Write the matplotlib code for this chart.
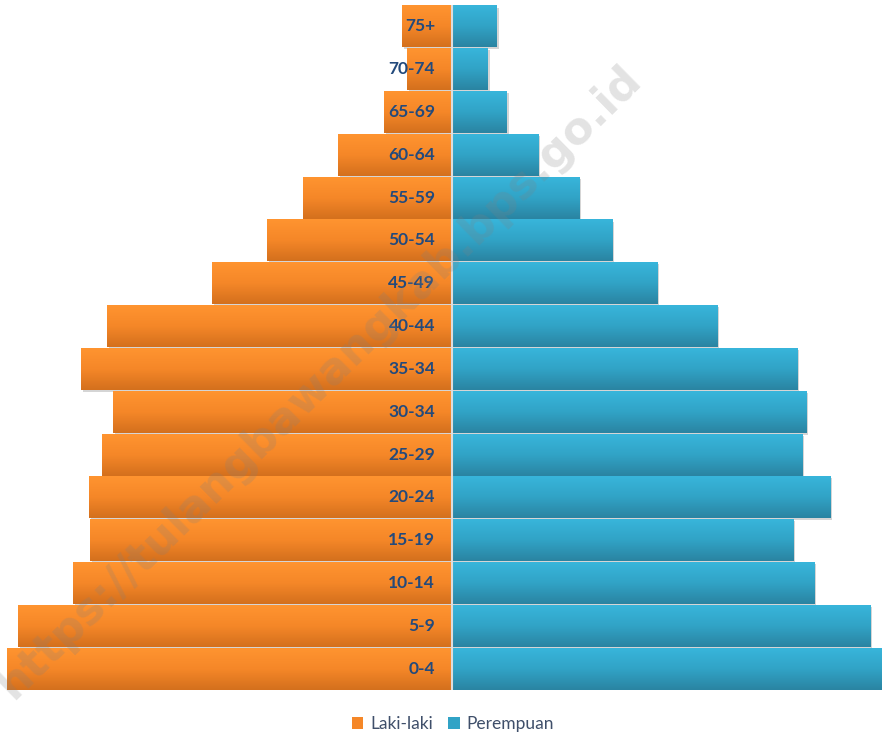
import matplotlib.pyplot as plt
import matplotlib.patheffects as pe
from matplotlib.colors import LinearSegmentedColormap
from matplotlib.patches import Patch
import numpy as np

# age groups, bottom to top
age_groups = ['0-4', '5-9', '10-14', '15-19', '20-24', '25-29', '30-34', '35-34',
              '40-44', '45-49', '50-54', '55-59', '60-64', '65-69', '70-74', '75+']
laki_laki = [445, 434, 379, 362, 363, 350, 339, 371, 345, 240, 185, 149, 114, 68, 45, 50]
perempuan = [429, 418, 362, 341, 378, 350, 354, 345, 265, 205, 160, 127, 86, 55, 36, 45]

orange_cm = LinearSegmentedColormap.from_list('o', ['#D4701D', '#F58728', '#FF9430'])
blue_cm = LinearSegmentedColormap.from_list('b', ['#2A84A2', '#31A3C6', '#38B5DB'])
grad = np.linspace(0, 1, 64).reshape(-1, 1)

fig = plt.figure(figsize=(8.83, 7.35), dpi=100)
ax = fig.add_axes([7 / 883, 45 / 735, 874 / 883, 685 / 735])

y = np.arange(len(age_groups))
shadow = [pe.SimplePatchShadow(offset=(1.5, -1.5), shadow_rgbFace='#888888', alpha=0.35), pe.Normal()]
bars_l = ax.barh(y, [-v for v in laki_laki], height=0.98, color='#F58728', zorder=2)
bars_r = ax.barh(y, perempuan, height=0.98, color='#31A3C6', zorder=2)

for bars, cm in ((bars_l, orange_cm), (bars_r, blue_cm)):
    for b in bars:
        b.set_path_effects(shadow)
        x0, y0 = b.get_x(), b.get_y()
        w, h = b.get_width(), b.get_height()
        im = ax.imshow(grad, extent=[x0, x0 + w, y0, y0 + h], aspect='auto',
                       cmap=cm, origin='lower', zorder=3)
        im.set_clip_path(b)

ax.axvline(0, color='#DDDDDD', lw=1.5, zorder=4)

for yi, lab in zip(y, age_groups):
    ax.text(-17, yi, lab, ha='right', va='center', fontsize=12.5, fontweight='bold',
            family='Lato', color='#234A7C', zorder=5)

ax.set_xlim(-445, 429)
ax.set_ylim(-0.5, len(age_groups) - 0.5)
ax.axis('off')

# watermark
fig.text(0.362, 0.48, 'https://tulangbawangkab.bps.go.id', rotation=44.5, ha='center',
         va='center', fontsize=32, fontweight='bold', color='#808080', alpha=0.22,
         family='DejaVu Sans', rotation_mode='anchor', zorder=10)

handles = [Patch(facecolor='#F58728', edgecolor='none', label='Laki-laki'),
           Patch(facecolor='#31A3C6', edgecolor='none', label='Perempuan')]
leg = fig.legend(handles=handles, loc='center', bbox_to_anchor=(0.513, 0.015), ncol=2,
                 frameon=False, handlelength=0.65, handleheight=0.65, handletextpad=0.4,
                 columnspacing=0.9, prop={'family': 'Lato', 'size': 12.5})
for t in leg.get_texts():
    t.set_color('#3F4F6A')

fig.savefig('out.png', dpi=100)
